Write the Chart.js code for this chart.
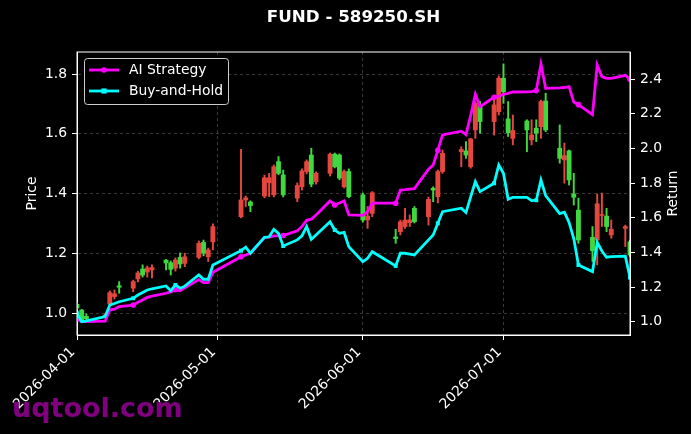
<!DOCTYPE html>
<html>
<head>
<meta charset="utf-8">
<title>FUND - 589250.SH</title>
<script src="https://cdn.jsdelivr.net/npm/chart.js@4.4.1/dist/chart.umd.min.js"></script>
<style>
  html, body { margin: 0; padding: 0; background: #000; }
  #wrap { width: 691px; height: 434px; }
</style>
</head>
<body>
<div id="wrap"><canvas id="chart"></canvas></div>
<script>
// trading days shown on the chart
const dates = [
  '2026-04-01','2026-04-02','2026-04-03','2026-04-07','2026-04-08','2026-04-09','2026-04-10',
  '2026-04-13','2026-04-14','2026-04-15','2026-04-16','2026-04-17',
  '2026-04-20','2026-04-21','2026-04-22','2026-04-23','2026-04-24',
  '2026-04-27','2026-04-28','2026-04-29','2026-04-30',
  '2026-05-06','2026-05-07','2026-05-08',
  '2026-05-11','2026-05-12','2026-05-13','2026-05-14','2026-05-15',
  '2026-05-18','2026-05-19','2026-05-20','2026-05-21','2026-05-22',
  '2026-05-25','2026-05-26','2026-05-27','2026-05-28','2026-05-29',
  '2026-06-01','2026-06-02','2026-06-03',
  '2026-06-08','2026-06-09','2026-06-10','2026-06-11','2026-06-12',
  '2026-06-15','2026-06-16','2026-06-17','2026-06-18',
  '2026-06-22','2026-06-23','2026-06-24','2026-06-25','2026-06-26',
  '2026-06-29','2026-06-30','2026-07-01','2026-07-02','2026-07-03',
  '2026-07-06','2026-07-07','2026-07-08','2026-07-09','2026-07-10',
  '2026-07-13','2026-07-14','2026-07-15','2026-07-16','2026-07-17',
  '2026-07-20','2026-07-21','2026-07-22','2026-07-23','2026-07-24',
  '2026-07-27','2026-07-28'
];

const opens = [
  1.030, 1.011, 0.990, 0.990, 1.031, 1.056, 1.092,
  1.084, 1.115, 1.148, 1.138, 1.145,
  1.178, 1.169, 1.151, 1.187, 1.167,
  1.187, 1.237, 1.189, 1.239,
  1.323, 1.379, 1.372,
  1.392, 1.436, 1.396, 1.507, 1.463,
  1.385, 1.423, 1.474, 1.529, 1.440,
  1.468, 1.532, 1.529, 1.423, 1.474,
  1.396, 1.312, 1.334,
  1.255, 1.273, 1.290, 1.303, 1.351,
  1.323, 1.418, 1.390, 1.474,
  1.540, 1.543, 1.490, 1.613, 1.691,
  1.641, 1.674, 1.786, 1.650, 1.585,
  1.643, 1.580, 1.619, 1.624, 1.710,
  1.552, 1.513, 1.543, 1.399, 1.345,
  1.254, 1.245, 1.327, 1.325, 1.262,
  1.284, 1.239
];
const highs = [
  1.036, 1.013, 0.998, 0.998, 1.075, 1.078, 1.106,
  1.111, 1.141, 1.162, 1.158, 1.162,
  1.180, 1.175, 1.185, 1.202, 1.201,
  1.242, 1.245, 1.218, 1.299,
  1.548, 1.392, 1.376,
  1.462, 1.468, 1.496, 1.524, 1.479,
  1.436, 1.483, 1.513, 1.552, 1.473,
  1.536, 1.536, 1.533, 1.479, 1.483,
  1.402, 1.357, 1.407,
  1.281, 1.312, 1.351, 1.329, 1.357,
  1.389, 1.423, 1.479, 1.546,
  1.557, 1.574, 1.585, 1.708, 1.708,
  1.719, 1.794, 1.834, 1.708, 1.663,
  1.647, 1.647, 1.647, 1.713, 1.736,
  1.630, 1.569, 1.546, 1.468, 1.385,
  1.290, 1.399, 1.402, 1.351, 1.312,
  1.295, 1.245
];
const lows = [
  1.012, 0.975, 0.978, 0.985, 1.024, 1.048, 1.067,
  1.072, 1.105, 1.121, 1.121, 1.118,
  1.145, 1.128, 1.141, 1.151, 1.156,
  1.182, 1.192, 1.173, 1.212,
  1.319, 1.357, 1.340,
  1.386, 1.390, 1.389, 1.463, 1.389,
  1.373, 1.412, 1.466, 1.423, 1.432,
  1.459, 1.486, 1.446, 1.419, 1.386,
  1.305, 1.284, 1.323,
  1.234, 1.262, 1.284, 1.290, 1.302,
  1.295, 1.373, 1.369, 1.468,
  1.490, 1.518, 1.485, 1.585, 1.602,
  1.596, 1.663, 1.702, 1.591, 1.563,
  1.540, 1.563, 1.574, 1.585, 1.607,
  1.502, 1.435, 1.429, 1.362, 1.234,
  1.173, 1.162, 1.290, 1.273, 1.251,
  1.223, 1.189
];
const closes = [
  1.018, 0.978, 0.982, 0.995, 1.069, 1.065, 1.087,
  1.106, 1.135, 1.128, 1.152, 1.153,
  1.168, 1.147, 1.178, 1.165, 1.189,
  1.234, 1.201, 1.212, 1.290,
  1.379, 1.386, 1.360,
  1.453, 1.453, 1.490, 1.468, 1.396,
  1.427, 1.476, 1.507, 1.432, 1.468,
  1.532, 1.490, 1.452, 1.474, 1.390,
  1.312, 1.325, 1.403,
  1.250, 1.306, 1.312, 1.312, 1.306,
  1.381, 1.412, 1.474, 1.535,
  1.548, 1.529, 1.583, 1.702, 1.641,
  1.697, 1.786, 1.741, 1.604, 1.611,
  1.613, 1.596, 1.602, 1.708, 1.613,
  1.518, 1.527, 1.446, 1.388, 1.245,
  1.209, 1.366, 1.330, 1.290, 1.281,
  1.290, 1.195
];

// cumulative returns (right axis)
const aiStrategy = [
  1.015, 1.000, 1.000, 1.003, 1.068, 1.072, 1.087,
  1.096, 1.112, 1.125, 1.140, 1.148,
  1.164, 1.172, 1.185, 1.178, 1.195,
  1.243, 1.225, 1.225, 1.285,
  1.375, 1.385, 1.395,
  1.485, 1.488, 1.495, 1.495, 1.497,
  1.525, 1.550, 1.585, 1.592, 1.616,
  1.697, 1.674, 1.685, 1.697, 1.616,
  1.614, 1.635, 1.684,
  1.684, 1.760, 1.762, 1.765, 1.768,
  1.880, 1.905, 1.990, 2.078,
  2.100, 2.080, 2.190, 2.313, 2.241,
  2.296, 2.300, 2.313, 2.318, 2.326,
  2.327, 2.328, 2.334, 2.488, 2.347,
  2.350, 2.352, 2.357, 2.268, 2.253,
  2.195, 2.482, 2.415, 2.405, 2.405,
  2.422, 2.400
];
const buyHold = [
  1.048, 1.000, 1.005, 1.029, 1.096, 1.105, 1.115,
  1.135, 1.154, 1.168, 1.183, 1.190,
  1.206, 1.179, 1.212, 1.193, 1.205,
  1.270, 1.245, 1.245, 1.327,
  1.410, 1.430, 1.395,
  1.487, 1.490, 1.533, 1.510, 1.437,
  1.472, 1.495, 1.549, 1.476, 1.500,
  1.577, 1.529, 1.510, 1.515, 1.433,
  1.346, 1.366, 1.404,
  1.322, 1.395, 1.395, 1.390, 1.385,
  1.472, 1.500, 1.568, 1.635,
  1.655, 1.630, 1.720, 1.808, 1.751,
  1.799, 1.905, 1.857, 1.707, 1.718,
  1.718, 1.699, 1.701, 1.818, 1.728,
  1.624, 1.632, 1.573, 1.480, 1.327,
  1.289, 1.458, 1.408, 1.372, 1.375,
  1.378, 1.255
];

const xTickDates = ['2026-04-01', '2026-05-01', '2026-06-01', '2026-07-01'];
const priceTicks = [1.0, 1.2, 1.4, 1.6, 1.8];
const returnTicks = [1.0, 1.2, 1.4, 1.6, 1.8, 2.0, 2.2, 2.4];

const UP_COLOR = '#e5473f';
const DOWN_COLOR = '#3fd83f';
const AI_COLOR = '#ff00ff';
const BH_COLOR = '#00ffff';
const GRID_COLOR = 'rgba(255,255,255,0.28)';
const FONT = 'DejaVu Sans';
const MARK_EVERY = 7;

const DAY_MS = 86400000;
const BASE = Date.UTC(2026, 3, 1);

function dayOf(s) {
  const [y, m, d] = s.split('-').map(Number);
  return (Date.UTC(y, m - 1, d) - BASE) / DAY_MS;
}

function dateLabel(v) {
  return new Date(BASE + v * DAY_MS).toISOString().slice(0, 10);
}

const days = dates.map(dayOf);
const candleColor = ctx => closes[ctx.dataIndex] >= opens[ctx.dataIndex] ? UP_COLOR : DOWN_COLOR;
const markRadius = ctx => ctx.dataIndex % MARK_EVERY === 0 ? 2.8 : 0;

// black figure + top spine, titles, legend, watermark
const decorations = {
  id: 'decorations',
  beforeDraw(chart) {
    const ctx = chart.ctx;
    ctx.save();
    ctx.fillStyle = '#000';
    ctx.fillRect(0, 0, chart.width, chart.height);
    ctx.restore();
  },
  afterDraw(chart) {
    const ctx = chart.ctx;
    const area = chart.chartArea;
    const midX = (area.left + area.right) / 2;
    const midY = (area.top + area.bottom) / 2;

    ctx.save();
    ctx.strokeStyle = '#fff';
    ctx.lineWidth = 1;
    ctx.strokeRect(area.left, area.top, area.right - area.left, area.bottom - area.top);

    ctx.fillStyle = '#fff';
    ctx.textAlign = 'center';
    ctx.textBaseline = 'middle';
    ctx.font = `bold 16.7px "${FONT}"`;
    ctx.fillText('FUND - 589250.SH', midX, 18);

    ctx.font = `13.9px "${FONT}"`;
    ctx.save();
    ctx.translate(32, midY);
    ctx.rotate(-Math.PI / 2);
    ctx.fillText('Price', 0, 0);
    ctx.restore();
    ctx.save();
    ctx.translate(673, midY);
    ctx.rotate(-Math.PI / 2);
    ctx.fillText('Return', 0, 0);
    ctx.restore();

    // legend
    const box = { x: area.left + 7, y: area.top + 6, w: 144, h: 46 };
    ctx.beginPath();
    ctx.roundRect(box.x + 0.5, box.y + 0.5, box.w, box.h, 3);
    ctx.fillStyle = '#000';
    ctx.fill();
    ctx.strokeStyle = '#cccccc';
    ctx.lineWidth = 1;
    ctx.stroke();

    const lines = chart.data.datasets.filter(ds => ds.type === 'line');
    lines.forEach((ds, i) => {
      const y = box.y + 12 + i * 21;
      ctx.strokeStyle = ds.borderColor;
      ctx.lineWidth = ds.borderWidth;
      ctx.beginPath();
      ctx.moveTo(box.x + 5, y);
      ctx.lineTo(box.x + 35, y);
      ctx.stroke();
      ctx.fillStyle = ds.borderColor;
      ctx.beginPath();
      if (ds.pointStyle === 'rect') {
        ctx.rect(box.x + 20 - 2.6, y - 2.6, 5.2, 5.2);
      } else {
        ctx.arc(box.x + 20, y, 2.8, 0, Math.PI * 2);
      }
      ctx.fill();
      ctx.fillStyle = '#fff';
      ctx.textAlign = 'left';
      ctx.font = `13.9px "${FONT}"`;
      ctx.fillText(ds.label, box.x + 45, y);
    });

    ctx.fillStyle = '#800080';
    ctx.textAlign = 'left';
    ctx.textBaseline = 'alphabetic';
    ctx.font = `bold 27px "${FONT}"`;
    ctx.fillText('uqtool.com', 12, 417);
    ctx.restore();
  }
};

const tickFont = { family: FONT, size: 13.9 };

new Chart(document.getElementById('chart'), {
  data: {
    datasets: [
      {
        type: 'line',
        label: 'AI Strategy',
        data: days.map((x, i) => ({ x, y: aiStrategy[i] })),
        yAxisID: 'y1',
        borderColor: AI_COLOR,
        backgroundColor: AI_COLOR,
        borderWidth: 2.8,
        tension: 0,
        pointStyle: 'circle',
        pointRadius: markRadius,
        pointBorderWidth: 0,
        order: 1
      },
      {
        type: 'line',
        label: 'Buy-and-Hold',
        data: days.map((x, i) => ({ x, y: buyHold[i] })),
        yAxisID: 'y1',
        borderColor: BH_COLOR,
        backgroundColor: BH_COLOR,
        borderWidth: 2.8,
        tension: 0,
        pointStyle: 'rect',
        pointRadius: markRadius,
        pointBorderWidth: 0,
        order: 0
      },
      {
        type: 'bar',
        label: 'body',
        data: days.map((x, i) => ({ x, y: [opens[i], closes[i]] })),
        yAxisID: 'y',
        backgroundColor: candleColor,
        barThickness: 4.2,
        minBarLength: 1,
        grouped: false,
        order: 2
      },
      {
        type: 'bar',
        label: 'wick',
        data: days.map((x, i) => ({ x, y: [lows[i], highs[i]] })),
        yAxisID: 'y',
        backgroundColor: candleColor,
        barThickness: 1.3,
        grouped: false,
        order: 3
      }
    ]
  },
  options: {
    responsive: true,
    maintainAspectRatio: false,
    animation: false,
    layout: { padding: { top: 52, left: 0, right: 0, bottom: 0 } },
    plugins: {
      legend: { display: false },
      tooltip: { enabled: false },
      title: { display: false }
    },
    scales: {
      x: {
        type: 'linear',
        min: days[0],
        max: days[days.length - 1],
        offset: false,
        afterBuildTicks: scale => { scale.ticks = xTickDates.map(d => ({ value: dayOf(d) })); },
        afterFit: scale => { scale.height = 99; scale.paddingLeft = 0; scale.paddingRight = 0; },
        ticks: {
          color: '#fff',
          font: tickFont,
          autoSkip: false,
          minRotation: 45,
          maxRotation: 45,
          padding: 4,
          labelOffset: -4,
          callback: v => dateLabel(v)
        },
        grid: {
          offset: false,
          color: GRID_COLOR,
          lineWidth: 0.8,
          tickColor: '#fff',
          tickLength: 5,
          tickWidth: 1
        },
        border: { color: '#fff', width: 1, dash: [3, 3] }
      },
      y: {
        position: 'left',
        min: 0.9275,
        max: 1.8736,
        afterBuildTicks: scale => { scale.ticks = priceTicks.map(v => ({ value: v })); },
        afterFit: scale => { scale.width = 77; },
        ticks: { color: '#fff', font: tickFont, padding: 5, callback: v => v.toFixed(1) },
        grid: {
          color: GRID_COLOR,
          lineWidth: 0.8,
          tickColor: '#fff',
          tickLength: 5,
          tickWidth: 1
        },
        border: { color: '#fff', width: 1, dash: [3, 3] }
      },
      y1: {
        position: 'right',
        min: 0.923,
        max: 2.557,
        afterBuildTicks: scale => { scale.ticks = returnTicks.map(v => ({ value: v })); },
        afterFit: scale => { scale.width = 61; },
        ticks: { color: '#fff', font: tickFont, padding: 5, callback: v => v.toFixed(1) },
        grid: {
          drawOnChartArea: false,
          tickColor: '#fff',
          tickLength: 5,
          tickWidth: 1
        },
        border: { color: '#fff', width: 1 }
      }
    }
  },
  plugins: [decorations]
});
</script>
</body>
</html>
